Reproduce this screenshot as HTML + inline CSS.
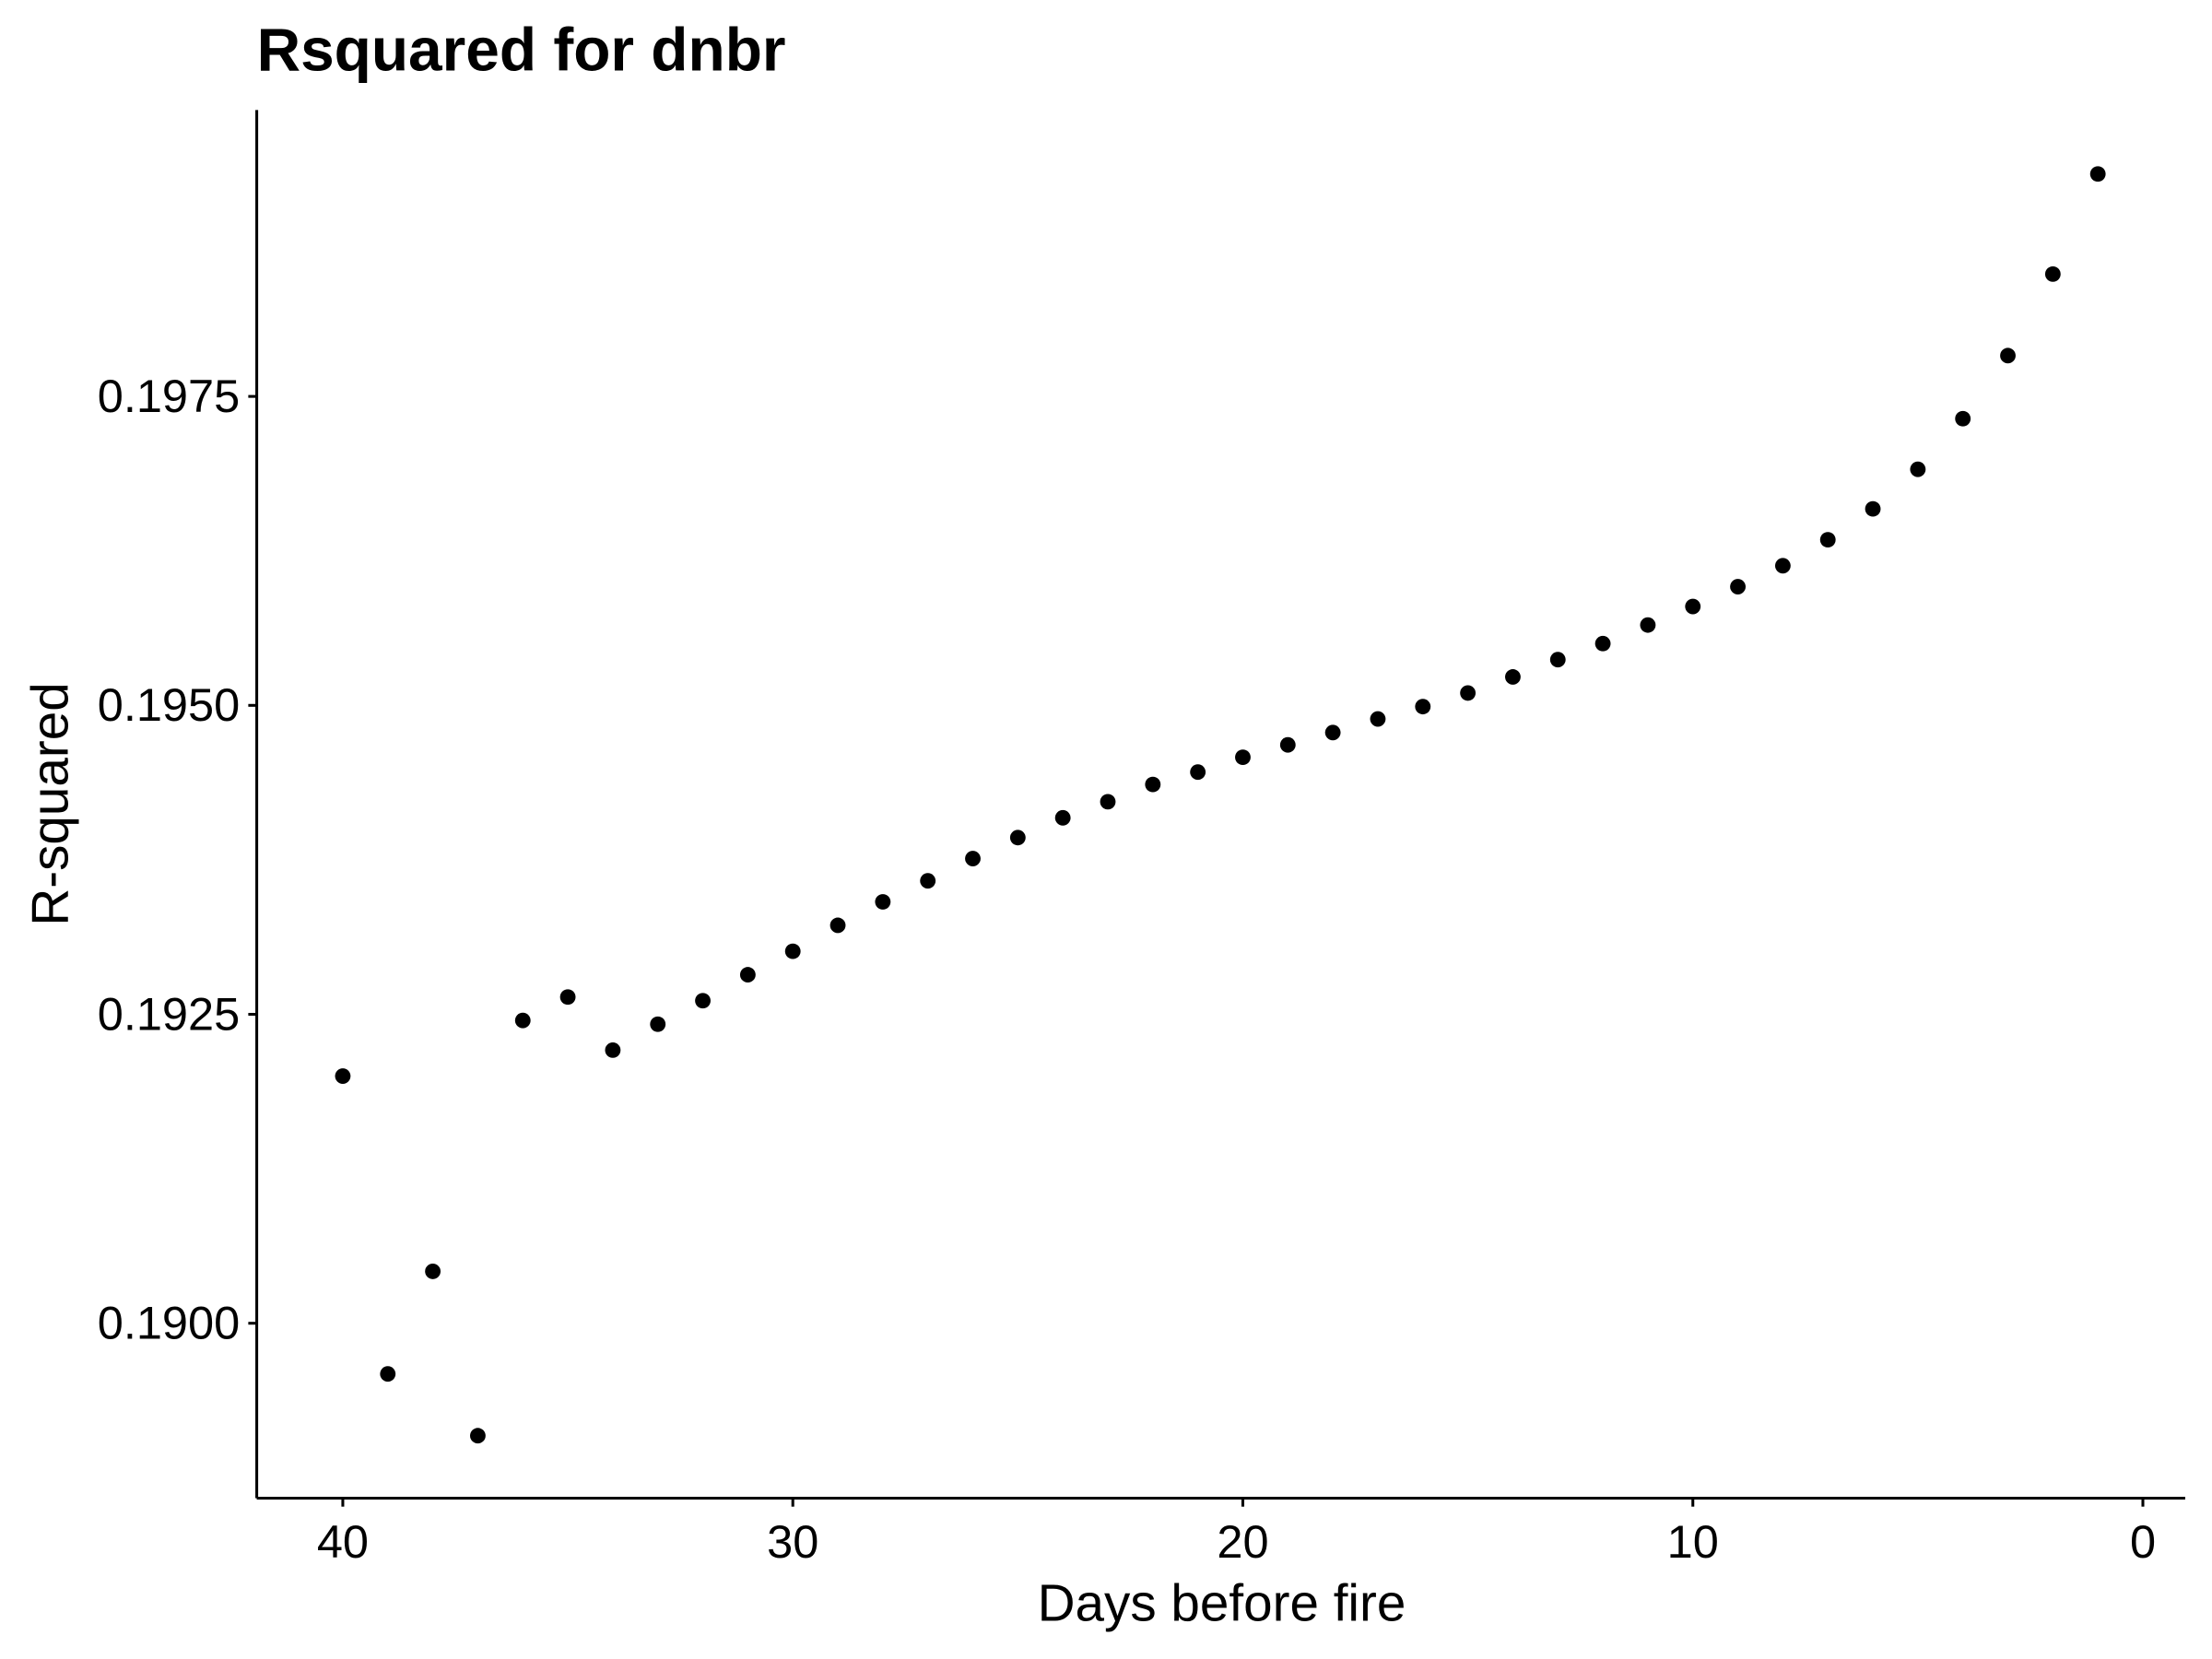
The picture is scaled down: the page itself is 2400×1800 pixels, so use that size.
<!DOCTYPE html>
<html><head><meta charset="utf-8"><style>html,body{margin:0;padding:0;background:#fff}svg{display:block}</style></head>
<body>
<svg id="chart" width="2400" height="1800" viewBox="0 0 1568 1176" xmlns="http://www.w3.org/2000/svg" font-family="'Liberation Sans', sans-serif">
<rect width="1568" height="1176" fill="#fff"/>
<text x="182" y="50" font-size="43" font-weight="bold">Rsquared for dnbr</text>
<g id="axes"></g>
<g id="points"></g>
<text x="866" y="1149" font-size="37" text-anchor="middle">Days before fire</text>
<text transform="translate(48,570) rotate(-90)" font-size="37" text-anchor="middle">R-squared</text>
</svg>
<script>
const days = [40,39,38,37,36,35,34,33,32,31,30,29,28,27,26,25,24,23,22,21,20,19,18,17,16,15,14,13,12,11,10,9,8,7,6,5,4,3,2,1];
const rsq = [0.19200,0.18959,0.19042,0.18909,0.19245,0.19264,0.19221,0.19242,0.19261,0.19282,0.19301,0.19322,0.19341,0.19358,0.19376,0.19393,0.19409,0.19422,0.19436,0.19446,0.19458,0.19468,0.19478,0.19489,0.19499,0.19510,0.19523,0.19537,0.19550,0.19565,0.19580,0.19596,0.19613,0.19634,0.19659,0.19691,0.19732,0.19783,0.19849,0.19930];
const xTicks = [40,30,20,10,0];
const yTicks = [0.1900,0.1925,0.1950,0.1975];
const yTickLabels = ["0.1900","0.1925","0.1950","0.1975"];

const NS = "http://www.w3.org/2000/svg";
function xs(d){ return 243 + (40 - d) * (1519 - 243) / 40; }
function ys(v){ return 938 - (v - 0.19) / 0.0025 * 219; }
function mk(tag, attrs, parent){ const e=document.createElementNS(NS,tag); for(const k in attrs) e.setAttribute(k,attrs[k]); parent.appendChild(e); return e; }

const axes=document.getElementById('axes');
const xl=mk('line',{x1:182,y1:1062,x2:1549,y2:1062,stroke:'#000','stroke-width':2},axes);


const yl=mk('line',{x1:182,y1:78,x2:182,y2:1062,stroke:'#000','stroke-width':2},axes);


xTicks.forEach(t=>{
  const x=xs(t);
  const tk=mk('line',{x1:x,y1:1062,x2:x,y2:1068,stroke:'#000','stroke-width':2},axes);
  
  
  const lb=mk('text',{x:x,y:1104,'font-size':33,'text-anchor':'middle',fill:'#000'},axes);
  lb.textContent=String(t);
  
  
});
yTicks.forEach((t,i)=>{
  const y=ys(t);
  const tk=mk('line',{x1:176,y1:y,x2:182,y2:y,stroke:'#000','stroke-width':2},axes);
  
  
  const lb=mk('text',{x:170,y:y+11,'font-size':33,'text-anchor':'end',fill:'#000'},axes);
  lb.textContent=yTickLabels[i];
  
  
});
const pts=document.getElementById('points');
days.forEach((d,i)=>{
  const c=mk('circle',{cx:xs(d),cy:ys(rsq[i]),r:5.5,fill:'#000'},pts);
  
  
});
</script>
</body></html>
